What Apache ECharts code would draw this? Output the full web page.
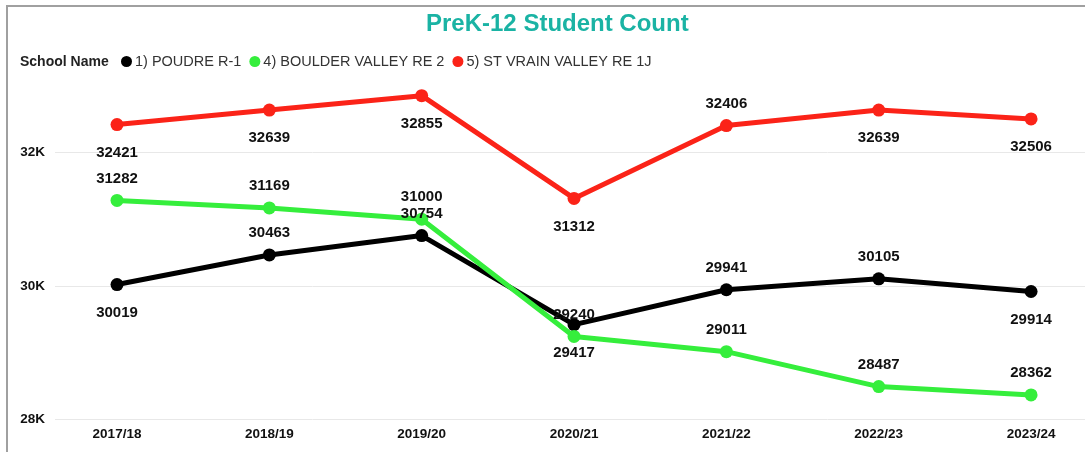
<!DOCTYPE html>
<html>
<head>
<meta charset="utf-8">
<title>PreK-12 Student Count</title>
<script src="https://cdn.jsdelivr.net/npm/echarts@6/dist/echarts.min.js"></script>
<style>
    html, body { margin: 0; padding: 0; background: #fff; }
    #frame {
        position: absolute; left: 6px; top: 5px; width: 1079px; height: 447px;
        border-top: 2px solid #a0a0a0; border-left: 2px solid #a0a0a0;
    }
    #chart { position: absolute; left: 0; top: 0; width: 1085px; height: 452px; }
</style>
</head>
<body>
<div id="frame"></div>
<div id="chart"></div>
<script>
'use strict';

var years = ['2017/18', '2018/19', '2019/20', '2020/21', '2021/22', '2022/23', '2023/24'];
var poudre = [30019, 30463, 30754, 29417, 29941, 30105, 29914];
var boulder = [31282, 31169, 31000, 29240, 29011, 28487, 28362];
var stVrain = [32421, 32639, 32855, 31312, 32406, 32639, 32506];

// where Power BI put each data label
var poudreLabelPos = ['bottom', 'top', 'top', 'bottom', 'top', 'top', 'bottom'];
var boulderLabelPos = ['top', 'top', 'top', 'top', 'top', 'top', 'top'];
var stVrainLabelPos = ['bottom', 'bottom', 'bottom', 'bottom', 'top', 'bottom', 'bottom'];

var chart = echarts.init(document.getElementById('chart'));

function points(values, labelPos) {
    return values.map(function (v, i) {
        return {
            value: [i, v],
            label: {
                position: labelPos[i],
                distance: labelPos[i] === 'top' ? 8 : 14
            }
        };
    });
}

function lineSeries(name, color, values, labelPos) {
    return {
        name: name,
        type: 'line',
        data: points(values, labelPos),
        symbol: 'circle',
        symbolSize: 13,
        lineStyle: { color: color, width: 5 },
        itemStyle: { color: color },
        label: {
            show: true,
            color: '#111',
            fontWeight: 'bold',
            fontSize: 15,
            formatter: function (p) { return p.value[1]; }
        }
    };
}

var option = {
    animation: false,
    textStyle: { fontFamily: 'Liberation Sans, Arial, sans-serif' },
    title: [
        {
            text: 'PreK-12 Student Count',
            left: 421,
            top: 7,
            textStyle: { color: '#1ab3a4', fontSize: 24, fontWeight: 'bold' }
        },
        {
            text: 'School Name',
            left: 15,
            top: 50,
            textStyle: { color: '#222', fontSize: 14, fontWeight: 'bold' }
        }
    ],
    legend: {
        left: 116,
        top: 49,
        icon: 'circle',
        itemWidth: 11,
        itemHeight: 11,
        itemGap: 8,
        textStyle: { color: '#333', fontSize: 14.5, padding: [0, 0, 0, -2] },
        data: ['1) POUDRE R-1', '4) BOULDER VALLEY RE 2', '5) ST VRAIN VALLEY RE 1J']
    },
    grid: {
        left: 55,
        right: 0,
        top: 86,
        bottom: 33
    },
    xAxis: {
        type: 'value',
        min: -0.407,
        max: 6.354,
        splitLine: { show: false },
        axisLine: { show: false },
        axisTick: { show: false },
        axisLabel: {
            customValues: years.map(function (y, i) { return i; }),
            formatter: function (v) { return years[Math.round(v)]; },
            color: '#111',
            fontWeight: 'bold',
            fontSize: 13.5,
            margin: 8
        }
    },
    yAxis: {
        type: 'value',
        min: 28000,
        max: 33000,
        interval: 2000,
        axisLine: { show: false },
        axisTick: { show: false },
        splitLine: {
            lineStyle: { color: '#e8e8e8', width: 1 },
            showMaxLine: false
        },
        axisLabel: {
            showMaxLabel: false,
            formatter: function (v) { return (v / 1000) + 'K'; },
            color: '#111',
            fontWeight: 'bold',
            fontSize: 13.5,
            margin: 10,
            align: 'right'
        }
    },
    series: [
        lineSeries('1) POUDRE R-1', '#000000', poudre, poudreLabelPos),
        lineSeries('4) BOULDER VALLEY RE 2', '#35ee3c', boulder, boulderLabelPos),
        lineSeries('5) ST VRAIN VALLEY RE 1J', '#fb2318', stVrain, stVrainLabelPos)
    ]
};

chart.setOption(option);
</script>
</body>
</html>
